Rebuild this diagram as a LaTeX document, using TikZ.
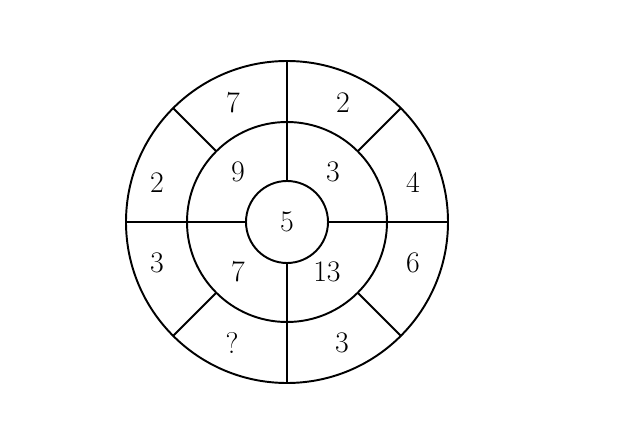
\documentclass[tikz,border=0pt]{standalone}
\begin{document}
\begin{tikzpicture}[x=0.02cm,y=0.02cm,line width=1.1pt,
  num/.style={font=\fontsize{17}{20}\selectfont}]
  \useasboundingbox (-287,222) rectangle (332,-201);
  \coordinate (centre) at (0, 0);
  \draw (centre) circle (161);
  \draw (centre) circle (100);
  \draw (centre) circle (41);
  % spokes
  \draw (centre) ++(0:41) -- ++(0:120);
  \draw (centre) ++(90:41) -- ++(90:120);
  \draw (centre) ++(180:41) -- ++(180:120);
  \draw (centre) ++(270:41) -- ++(270:120);
  \foreach \a in {45,135,225,315}
    \draw (centre) ++(\a:100) -- ++(\a:61);

  \node[num] (mid) at (centre) {5};
  \node[num] (ne) at (46,50) {3};
  \node[num] (nw) at (-49,50) {9};
  \node[num] (sw) at (-49,-50) {7};
  \node[num] (se) at (40,-50) {13};

  \node[num] (o1) at (-54,119) {7};
  \node[num] (o2) at (56,119) {2};
  \node[num] (o3) at (-130,39) {2};
  \node[num] (o4) at (126,39) {4};
  \node[num] (o5) at (-130,-41) {3};
  \node[num] (o6) at (126,-41) {6};
  \node[num] (o7) at (-55,-121) {?};
  \node[num] (o8) at (55,-121) {3};
\end{tikzpicture}
\end{document}
